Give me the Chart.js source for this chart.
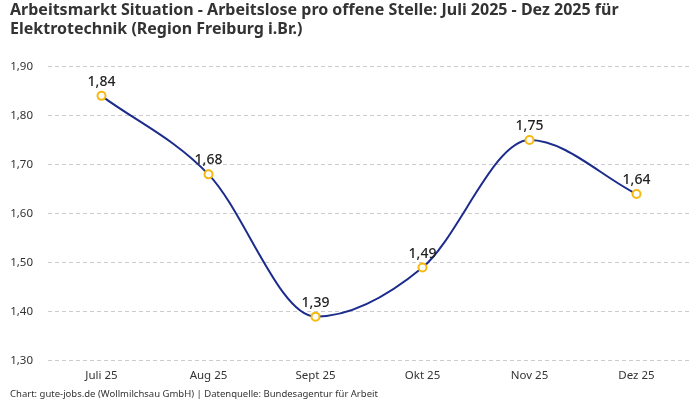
<!DOCTYPE html>
<html>
<head>
<meta charset="utf-8">
<script src="https://cdn.jsdelivr.net/npm/chart.js@4"></script>
<style>
  html, body { margin: 0; padding: 0; background: #ffffff; }
  #wrap { position: relative; width: 700px; height: 400px; }
</style>
</head>
<body>
<div id="wrap"><canvas id="chart"></canvas></div>
<script>
// Monate und Werte (Arbeitslose pro offene Stelle)
const months = ['Juli 25', 'Aug 25', 'Sept 25', 'Okt 25', 'Nov 25', 'Dez 25'];
const ratio = [1.84, 1.68, 1.39, 1.49, 1.75, 1.64];
const yTicks = [1.3, 1.4, 1.5, 1.6, 1.7, 1.8, 1.9];

const fmt = v => v.toFixed(2).replace('.', ',');

// Werte über den Punkten
const valueLabels = {
    id: 'valueLabels',
    afterDatasetsDraw(chart) {
        const ctx = chart.ctx;
        const meta = chart.getDatasetMeta(0);
        ctx.save();
        ctx.font = '500 14px "Noto Sans", sans-serif';
        ctx.fillStyle = '#222222';
        ctx.textAlign = 'center';
        ctx.textBaseline = 'bottom';
        meta.data.forEach((pt, i) => {
            ctx.fillText(fmt(ratio[i]), pt.x, pt.y - 7);
        });
        ctx.restore();
    }
};

new Chart(document.getElementById('chart').getContext('2d'), {
    type: 'line',
    data: {
        labels: months,
        datasets: [{
            data: ratio,
            borderColor: '#1c2c8c',
            borderWidth: 2,
            cubicInterpolationMode: 'monotone',
            pointRadius: 4,
            pointBorderWidth: 2,
            pointBorderColor: '#f5b90f',
            pointBackgroundColor: '#ffffff',
            fill: false
        }]
    },
    options: {
        responsive: true,
        maintainAspectRatio: false,
        animation: false,
        layout: { padding: { left: 10, right: 10, top: 0, bottom: 0 } },
        scales: {
            x: {
                offset: true,
                grid: { display: false, drawTicks: false },
                border: { display: false },
                ticks: { color: '#333333', font: { family: 'Noto Sans', size: 11.5 }, padding: 8 },
                afterFit: axis => { axis.height -= 6; }
            },
            y: {
                min: 1.3,
                max: 1.9,
                afterBuildTicks: axis => { axis.ticks = yTicks.map(v => ({ value: v })); },
                afterFit: axis => { axis.width = 38; },
                grid: { color: '#cccccc', drawTicks: false },
                border: { display: false, dash: [4, 3] },
                ticks: {
                    color: '#333333',
                    font: { family: 'Noto Sans', size: 11.5 },
                    padding: 15,
                    callback: v => fmt(v)
                }
            }
        },
        plugins: {
            legend: { display: false },
            tooltip: { enabled: false },
            title: {
                display: true,
                align: 'start',
                text: ['Arbeitsmarkt Situation - Arbeitslose pro offene Stelle: Juli 2025 - Dez 2025 für', 'Elektrotechnik (Region Freiburg i.Br.)'],
                color: '#333333',
                font: { family: 'Noto Sans', size: 16, weight: 'bold', lineHeight: 1.2 },
                padding: { top: 1, bottom: 27 }
            },
            subtitle: {
                display: true,
                position: 'bottom',
                align: 'start',
                text: 'Chart: gute-jobs.de (Wollmilchsau GmbH) | Datenquelle: Bundesagentur für Arbeit',
                color: '#333333',
                font: { family: 'Noto Sans', size: 9.5 },
                padding: { top: 4, bottom: 0 }
            }
        }
    },
    plugins: [valueLabels]
});
</script>
</body>
</html>
